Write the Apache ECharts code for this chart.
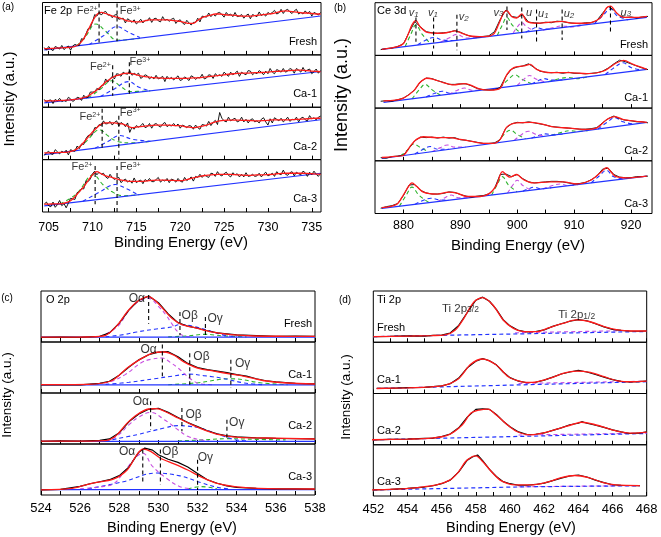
<!DOCTYPE html>
<html><head><meta charset="utf-8">
<script src="https://cdn.jsdelivr.net/npm/echarts@6/dist/echarts.min.js"></script>
<style>html,body{margin:0;padding:0;background:#fff}#c{width:661px;height:537px}</style>
</head><body><div id="c"></div><script>
// ================= DATA =================
const samples = ['Fresh', 'Ca-1', 'Ca-2', 'Ca-3'];

// ---- (a) Fe 2p ----
const feTicks = [705,707.5,710,712.5,715,717.5,720,722.5,725,727.5,730,732.5,735];
const feLabels = [705,710,715,720,725,730,735];
const feEnergy = [704.5,705,705.5,706,706.5,707,707.5,708,708.5,709,709.5,710,710.5,711,711.5,712,712.5,713,713.5,714,714.5,715,715.5,716,716.5,717,717.5,718,718.5,719,719.5,720,720.5,721,721.5,722,722.5,723,723.5,724,724.5,725,725.5,726,726.5,727,727.5,728,728.5,729,729.5,730,730.5,731,731.5,732,732.5,733,733.5,734,734.5,735,735.5,736];
const feRawEnergy = [704.5,704.75,705,705.25,705.5,705.75,706,706.25,706.5,706.75,707,707.25,707.5,707.75,708,708.25,708.5,708.75,709,709.25,709.5,709.75,710,710.25,710.5,710.75,711,711.25,711.5,711.75,712,712.25,712.5,712.75,713,713.25,713.5,713.75,714,714.25,714.5,714.75,715,715.25,715.5,715.75,716,716.25,716.5,716.75,717,717.25,717.5,717.75,718,718.25,718.5,718.75,719,719.25,719.5,719.75,720,720.25,720.5,720.75,721,721.25,721.5,721.75,722,722.25,722.5,722.75,723,723.25,723.5,723.75,724,724.25,724.5,724.75,725,725.25,725.5,725.75,726,726.25,726.5,726.75,727,727.25,727.5,727.75,728,728.25,728.5,728.75,729,729.25,729.5,729.75,730,730.25,730.5,730.75,731,731.25,731.5,731.75,732,732.25,732.5,732.75,733,733.25,733.5,733.75,734,734.25,734.5,734.75,735,735.25,735.5,735.75,736];
const feFreshFit = [12,12,12.5,13,13.5,14,14.5,16,21,31,47,64,77,81,79,76,73,71,68,65,64,63,63,65,67,67,67,67,67,66,65,64,62,60,60,66,71,74,76,78,78,77,76,76,75,74,74,74,75,76,77,78,79,81,83,84,83,82,81,80,80,79,78,78];
const feFreshRaw = [14,9,16,11,8,16,14,11,18,10,14,17,9,17,20,18,18,31,29,40,50,52,63,77,74,81,76,81,83,76,76,71,76,77,68,69,70,61,69,66,62,67,59,63,68,61,66,65,71,62,69,70,65,63,73,66,68,64,68,70,60,65,67,61,58,66,61,57,62,62,70,63,74,73,72,80,73,78,74,80,81,77,72,81,76,78,73,81,73,74,77,70,75,78,69,77,75,73,82,75,78,74,81,78,81,85,78,80,87,79,85,87,82,79,84,87,78,81,78,84,79,83,74,81,79,76,81];
const feCa1Fit = [12,12,12,12.5,13,13.5,14,15,16.5,18.5,21.5,27,33,40,48,54,59,61.5,64,65,64,62,60,58.5,57.5,56.5,56,55.5,55,55,55,55,55,55.5,56,56,57,58,59,60,61,62,63,64,64.5,65,65,65.5,66,66,66.5,67,68,68.5,69,69.5,70,70.5,71,70.5,70,69,68.5,68];
const feCa1Raw = [15,10,13,14,7,15,12,17,11,13,11,19,16,11,14,19,18,13,23,18,19,29,29,29,36,33,41,42,54,48,54,59,54,64,63,59,67,64,63,70,61,65,62,65,55,58,62,60,54,58,54,61,54,56,59,49,59,54,57,52,56,60,51,53,58,55,51,60,58,53,57,56,63,54,56,62,61,55,64,60,62,59,67,63,59,67,62,65,69,59,67,64,62,70,69,62,66,64,70,67,62,69,64,74,67,64,72,70,67,74,67,69,74,72,65,74,71,67,76,68,71,73,64,68,73,65,70];
const feCa2Fit = [13,13,13.5,13.5,14,14,15.5,18,24,33,43,53,61,68,70,70,70,69,68,64,61,62,63,64,65,65.5,66,66,66,65.5,65,65,63,62,61,62,64,66,69,72,74,75,75.5,75.5,75.5,75,75,74.5,74,74,74.5,75,76,76,76,76,76,76.5,77,77.5,78,78.5,79,79];
const feCa2Raw = [8,13,16,11,10,19,15,11,16,13,18,9,19,17,16,26,21,30,29,40,46,47,48,61,61,67,65,74,68,69,73,66,71,74,64,71,68,63,70,52,62,58,65,62,65,69,61,63,69,60,67,69,65,62,68,71,63,66,64,69,64,68,60,66,64,61,65,64,58,66,61,58,67,66,64,73,65,71,75,67,90,79,74,72,81,74,77,79,72,74,81,72,77,70,76,78,72,74,70,77,80,72,66,78,70,80,77,74,79,72,76,81,73,77,76,81,72,79,81,76,74,84,78,80,76,81,83];
const feCa3Fit = [15,15,15.5,15.5,16,18,21.5,29,39,48,60,71,77,73,69,67,64.5,62,60.5,59,58.5,58.5,58.5,59,60,60.5,61,61,60.5,60.5,60,60,61,63,65,67,69,70,71,71.5,72,72,72,71.5,71,70.5,70,70,70.5,71,71,71.5,72,73,73.5,74,74,74,74,74,73.5,73,72.5,72];
const feCa3Raw = [15,19,12,10,19,9,14,22,12,16,8,17,26,25,24,37,38,45,44,59,58,63,73,78,71,76,72,74,67,64,72,66,62,65,66,56,60,63,57,60,55,65,56,59,61,54,62,59,64,58,58,62,66,57,61,59,64,56,63,61,57,64,59,57,66,60,63,67,59,68,66,72,66,71,68,66,74,73,68,77,71,69,73,76,70,67,75,71,73,67,72,67,75,68,69,72,68,69,74,67,72,76,69,71,74,68,77,73,71,80,72,70,75,77,69,76,73,71,78,75,68,76,71,78,72,68,74];
const feFreshBase = [[704.5,9.4],[736,74.2]];
const feCa1Base = [[704.5,8.4],[736,68.3]];
const feCa2Base = [[704.5,9.4],[736,76.1]];
const feCa3Base = [[704.5,11.7],[736,74]];
const feFreshFe2 = [[708.2,17],[709.2,35],[710.4,59],[711.5,45],[712.8,28],[714,29],[715.4,31.5]];
const feFreshFe3 = [[709.6,19.6],[711.2,36],[712.8,54],[714,44],[715.4,33]];
const feCa1Fe2 = [[709.5,18],[710.8,33],[712.2,50.6],[713.2,40],[714.3,30],[716.6,31.4]];
const feCa1Fe3 = [[710.9,20.6],[712.5,35],[714.1,49],[715.3,38],[716.6,31]];
const feCa2Fe2 = [[707.8,16.4],[709.3,35],[710.8,57],[711.8,45],[712.8,35],[714.5,32],[716.6,35]];
const feCa2Fe3 = [[710.3,21.9],[711.8,35],[713.1,46],[714.5,39],[716.6,35]];
const feCa3Fe2 = [[706.3,15.3],[708.2,35],[710.1,71],[711.2,52],[712.2,39],[713.5,31],[715.4,33.3]];
const feCa3Fe3 = [[708.9,20.4],[710.8,38],[712.6,52.5],[713.8,45],[715.0,35]];
const feFreshMarks = [[710.75,98,20],[712.8,98,26]];
const feCa1Marks = [[712.3,80,22],[714.2,86,26]];
const feCa2Marks = [[711.1,97,19],[713.0,84,2]];
const feCa3Marks = [[710.3,88,15],[712.8,88,0]];
const feFreshTags = [[709.4,84,'Fe','2+'],[714.3,84,'Fe','3+']];
const feCa1Tags = [[710.9,77.5,'Fe','2+'],[715.4,87,'Fe','3+']];
const feCa2Tags = [[709.7,81,'Fe','2+'],[714.3,90,'Fe','3+']];
const feCa3Tags = [[708.8,85.5,'Fe','2+'],[714.3,85.5,'Fe','3+']];

// ---- (b) Ce 3d ----
const ceTicks = [880,885,890,895,900,905,910,915,920];
const ceLabels = [880,890,900,910,920];
const ceEnergy = [876,877,878,879,880,881,882,883,884,885,886,887,888,889,890,891,892,893,894,895,896,897,898,899,900,901,902,903,904,905,906,907,908,909,910,911,912,913,914,915,916,917,918,919,920,921,922,923];
const ceFreshRaw = [11,13,14,17,22,44,64,54,45,43,42,43,44,47,44,39,36,35,36,37,45,68,86,74,72,77,63,62,61,63,62,65,64,62,61,60,62,62,66,80,93,86,75,72,73,71,73,74];
const ceCa1Raw = [13,14,13,16,19,26,35,50,57,56,52,49,45,45,46,46,42,37,35,34,35,39,60,74,78,80,84,77,70,68,67,68,66,68,66,66,65,66,67,70,76,84,91,88,84,80,76,73];
const ceCa2Raw = [6,5,8,9,11,24,38,45,44,45,43,45,43,44,40,39,37,35,33,33,34,40,62,70,73,72,74,72,70,68,65,64,63,62,61,60,60,61,63,72,80,85,80,77,76,74,74,72];
const ceCa3Raw = [10,13,15,19,34,54,55,44,39,37,37,38,41,40,36,33,31,33,34,37,47,74,75,70,74,66,60,58,59,60,61,61,60,58,56,57,59,64,71,84,86,74,69,68,68,70,70,71];
const ceFreshFit = [[876.2,11.6],[878.8,16],[880.0,22.6],[880.9,42],[881.5,58],[882.2,65.8],[882.9,54.8],[884.1,44],[885.9,42],[887.6,43],[889.1,46.5],[890.3,42],[891.7,36.8],[894.1,35.5],[895.8,40],[896.7,58],[897.6,80.6],[898.2,85],[899.0,74],[899.9,71],[900.8,78.7],[901.7,64.5],[903.4,61],[905.8,63],[907.8,64.5],[909.9,61],[912.2,61],[914.6,71],[915.7,90],[916.4,93.5],[917.5,80.6],[918.7,72],[921.0,72],[922.8,74]];
const ceCa1Fit = [[876.5,13.8],[878.5,15],[880.0,19],[881.8,32.7],[882.9,48.4],[884.1,56.6],[885.3,54.7],[887.0,48.4],[888.8,44],[890.6,46.5],[891.7,44],[893.5,35.8],[895.2,34],[897.0,37.7],[898.2,64],[899.4,76.7],[901.1,80],[902.3,83],[903.4,73.6],[905.8,67.3],[909.3,67.3],[912.2,65.4],[915.2,70.4],[917.5,86],[918.7,90.6],[920.4,83],[922.8,73.6]];
const ceCa2Fit = [[876.2,6.3],[878,8],[880.0,10.6],[881.2,28],[882.3,40.6],[883.5,45.6],[885.9,43.8],[888.2,43.8],[890.0,40.6],[891.7,37.5],[894.1,33],[895.8,33],[897.0,40.6],[898.2,64.4],[899.9,72],[902.3,73],[904.0,70.6],[906.4,64.4],[909.3,62],[911.6,59.4],[914.0,62.5],[915.7,78],[917.2,84],[918.7,78],[921.0,75],[922.8,73]];
const ceCa3Fit = [[876.2,11],[878.8,17.4],[880.0,35.5],[880.9,51.6],[881.5,58],[882.3,51.6],[883.5,40.6],[885.9,36.8],[887.9,40.6],[889.4,38.7],[891.1,32.3],[893.5,32.3],[895.2,38.7],[896.4,54.8],[897.4,79.4],[898.7,69],[899.9,74],[901.1,64.5],[902.8,58],[905.8,60],[908.1,60],[910.4,56],[912.8,62.6],[914.6,77.4],[915.7,87],[917.2,71],[919.3,67.7],[922.8,71]];
const ceFreshBase = [[876.2,11.6],[922.8,72]];
const ceCa1Base = [[876.5,10.7],[922.8,73.6]];
const ceCa2Base = [[876.2,4.4],[922.8,73]];
const ceCa3Base = [[876.2,9.7],[922.8,71]];
const ceFreshGreen = [[[880.3,16.9],[881.3,40],[882.2,58],[883.3,40],[884.7,22.6]], [[896.5,37.9],[897.4,58],[898.2,72],[899.1,58],[900.5,43.1]]];
const ceFreshBlue = [[[882.5,20],[884,29],[885.3,34],[887,29],[889,28.2]], [[901.5,44],[902.5,49],[903.4,53],[904.5,50],[906,50.2]], [[913.5,60],[915,75],[916.4,88],[917.6,75],[919.5,67.7]]];
const ceFreshMagenta = [[[886.5,25],[888,33],[889.4,40],[891,33],[893,33.4]], [[899.3,43],[900.1,55],[900.8,62],[901.6,55],[903,46.3]], [[904.5,48],[906.5,53],[907.9,56],[909.5,54],[911.5,57.3]]];
const ceCa1Green = [[[881.5,17.5],[882.8,35],[883.8,45],[885,35],[886.5,24.3]], [[897,38.6],[898.5,55],[899.6,63],[900.8,55],[902.5,46.1]], [[905.5,50],[907.5,56],[909,58],[910.5,56],[912.5,59.7]]];
const ceCa1Blue = [[[884,21],[885.5,28],[886.8,32],[888.3,28],[890,29]], [[902.5,46],[903.7,52],[904.7,56],[906,53],[908,53.5]], [[915.5,63.7],[917.2,78],[918.6,86],[920,77],[921.8,72.3]]];
const ceCa1Magenta = [[[888,26.5],[889.5,34],[890.7,38],[892,34],[893.5,33.8]], [[900,43],[901.2,55],[902.2,62],[903.3,55],[905,49.5]]];
const ceCa2Green = [[[879.5,9.3],[880.7,20],[881.8,32],[883,25],[884.5,16.6]], [[896.5,34.3],[897.7,50],[898.8,58],[900,50],[901.5,41.6]], [[906,48.3],[907.8,54],[909.2,57],[910.6,56],[912.5,57.8]]];
const ceCa2Blue = [[[882,13],[883.5,22],[884.7,27],[886,22],[888,21.8]], [[902.5,43],[903.8,48],[905,51],[906.3,49],[908,51]], [[914.2,60.3],[915.8,73],[917.2,82],[918.6,74],[920.5,69.6]]];
const ceCa2Magenta = [[[885,17.4],[886.5,25],[887.7,30],[889,26],[891,26.2]], [[899.5,38.7],[900.8,50],[902,56],[903.3,50],[905,46.8]]];
const ceCa3Green = [[[879.3,13.8],[880.5,35],[881.5,50],[882.7,35],[884.5,20.6]], [[895.5,35.1],[896.5,55],[897.4,70],[898.4,55],[900,41]]];
const ceCa3Blue = [[[882,17.3],[883.5,25],[884.8,29],[886.3,26],[888,25.2]], [[901,42.3],[902,47],[903,50],[904.2,47],[906,48.9]], [[913,58.1],[914.5,72],[915.7,82],[916.9,70],[918.7,65.6]]];
const ceCa3Magenta = [[[886,22.6],[887.3,30],[888.4,35],[889.6,30],[891.5,29.8]], [[898.3,38.8],[899.3,55],[900,63],[901,53],[902.5,44.3]], [[904.5,46.9],[906.2,53],[907.5,56],[909,53],[911,55.5]]];
const ceFreshMarks = [[882.2,72,26],[885.3,72,13],[889.4,77,10],[898.2,93,48],[900.8,91,32],[903.4,87,26],[907.9,87,29],[916.4,93,42]];
const ceFreshTags = [[881.8,80,'v','1'],[885.2,80,'v','1'],[890.6,73,'v','2'],[896.7,81,'v','3'],[902.1,81,'u',''],[904.6,78,'u','1'],[909.1,78,'u','2'],[919.1,81,'u','3']];

// ---- (c) O 2p ----
const oTicks = [524,525,526,527,528,529,530,531,532,533,534,535,536,537,538];
const oLabels = [524,526,528,530,532,534,536,538];
const oFreshFit = [[524.0,9.5],[525.5,9.5],[526.4,9.8],[527.3,13],[527.9,33],[528.4,59],[528.9,79],[529.5,89],[529.9,79],[530.3,62.5],[530.7,46],[531.2,34],[531.9,27.6],[532.7,19.7],[533.7,14.5],[534.9,11.8],[536.6,11.2],[538,11]];
const oFreshRaw = [[524,9],[525,9.5],[526,9],[527,11],[527.5,18],[528,37],[528.5,63],[529,82],[529.5,90],[530,77],[530.5,55],[531,38],[531.5,31],[532,27],[532.5,22],[533,18],[533.5,16],[534,14],[535,12.5],[536,11],[537,11.5],[538,11]];
const oCa1Fit = [[524,16.5],[526.4,17],[527.6,24],[528.4,49],[529.1,67],[529.7,78.4],[530.3,80.4],[530.8,74],[531.3,61],[532.0,49],[532.9,42.5],[533.7,37],[534.4,32.7],[535.4,24],[536.6,19.6],[538,17.6]];
const oCa1Raw = [[524,16],[525,16.5],[526,16],[527,19],[527.5,23],[528,35],[528.5,51],[529,65],[529.5,75],[530,80],[530.5,81],[531,71],[531.5,58],[532,50],[532.5,46],[533,43],[533.5,40],[534,36],[534.5,33],[535,28],[535.5,24],[536,22],[537,19],[538,18]];
const oCa2Fit = [[524,5.5],[525.5,5.5],[527.3,6.5],[527.8,15],[528.4,41],[528.9,57.5],[529.5,68.6],[529.9,69.3],[530.5,60.8],[531.0,51],[531.7,38],[532.4,26.8],[533.1,18.3],[534.1,13],[535.5,11.8],[538,9.8]];
const oCa2Raw = [[524,5],[525,6],[526,5.5],[527,7],[527.5,10],[528,22],[528.5,44],[529,59],[529.5,68],[530,70],[530.5,62],[531,52],[531.5,42],[532,34],[532.5,26],[533,20],[533.5,16],[534,14],[535,12],[536,11],[537,10.5],[538,10]];
const oCa3Fit = [[524,10],[525.6,13],[526.6,23],[527.7,31],[528.4,49],[528.9,79],[529.2,90],[529.6,85.5],[530.1,72],[530.8,61],[531.5,49],[532.2,35],[532.9,24],[533.9,16.4],[535.1,13],[538,11.8]];
const oCa3Raw = [[524,10],[525,11],[526,17],[526.5,22],[527,26],[527.5,30],[528,38],[528.5,55],[529,84],[529.3,92],[529.7,88],[530,79],[530.5,70],[531,64],[531.5,55],[532,42],[532.5,30],[533,23],[533.5,18],[534,15],[535,13],[536,12],[537,12],[538,11.5]];
const oFreshBase = [[524,9.5],[538,9.5]];
const oCa1Base = [[524,15.8],[538,15.8]];
const oCa2Base = [[524,5],[538,5]];
const oCa3Base = [[524,10.5],[538,10.5]];
const oFreshAlpha = [[527,10],[527.9,30],[528.5,62],[529.0,80],[529.5,85.5],[530.0,70],[530.4,52],[530.7,35],[531.0,19.7],[531.4,11],[531.8,10]];
const oFreshBeta = [[527.3,10],[528.3,15],[528.9,19.7],[529.8,25],[530.7,29.6],[531.1,34],[531.9,29.6],[532.7,21],[533.4,13],[534,10.5]];
const oFreshGamma = [[530.5,10],[531.5,12],[532.4,15],[533.3,12],[534.5,10]];
const oCa1Alpha = [[526.5,17],[527.5,22],[528.3,36],[529.1,58.8],[529.6,66],[530.2,68.6],[530.6,60],[531.0,49],[531.7,26],[532.2,17.6],[532.8,16.3]];
const oCa1Beta = [[527.3,17],[528.5,21],[529.8,28],[530.7,33],[531.6,37],[532.3,34],[533.2,29.4],[534.4,19.6],[535.4,16.3]];
const oCa1Gamma = [[530.5,16.3],[532,20],[533.7,28],[535.3,19.6],[536.6,16.3]];
const oCa2Alpha = [[527.3,6],[527.9,16],[528.5,38],[529.0,53],[529.6,62],[530.3,47.7],[531.0,28],[531.5,15],[532.1,8.5],[532.6,6]];
const oCa2Beta = [[527.3,6],[528.9,18.3],[530.3,31.4],[531.0,36],[531.5,35],[532.1,31.4],[533.1,18.3],[533.9,8.5],[534.5,6]];
const oCa2Gamma = [[531,6],[532.5,8.5],[533.5,10.5],[535,9],[536.5,8]];
const oCa3Alpha = [[526,12],[527,16],[527.7,22],[528.2,43],[528.8,72],[529.2,82],[529.7,56],[530.4,33],[531.1,16.4],[531.7,12.5]];
const oCa3Beta = [[526.4,12],[528.2,26],[529.9,43],[531.1,37.5],[532.2,24],[533,15],[533.6,12]];
const oCa3Gamma = [[531.5,12],[532.2,16.4],[533,12]];
const oFreshMarks = [[529.5,92,36],[531.1,59,13],[532.4,49,6.6]];
const oCa1Marks = [[530.2,95,33],[531.6,78,16],[533.7,65,10]];
const oCa2Marks = [[529.6,83.6,28],[531.2,70.6,24.8],[533.5,47.7,9.8]];
const oCa3Marks = [[529.2,89,26],[530.1,89,20],[532.0,69,10]];
const oFreshTags = [[528.9,85.7,'Oα'],[531.6,51.6,'Oβ'],[532.9,46.5,'Oγ']];
const oCa1Tags = [[529.5,85,'Oα'],[532.2,71.8,'Oβ'],[534.3,56.9,'Oγ']];
const oCa2Tags = [[529.1,83.5,'Oα'],[531.8,57.5,'Oβ'],[534.0,42.4,'Oγ']];
const oCa3Tags = [[528.4,85.4,'Oα'],[530.6,85.4,'Oβ'],[532.4,72.4,'Oγ']];

// ---- (d) Ti 2p ----
const tiTicks = [452,453,454,455,456,457,458,459,460,461,462,463,464,465,466,467,468];
const tiLabels = [452,454,456,458,460,462,464,466,468];
const tiFreshFit = [[452,11],[454,12],[455.4,13],[456.2,14.3],[456.8,24],[457.3,46.8],[457.9,79],[458.4,87],[459.0,72.7],[459.6,43.5],[460.2,27],[460.8,20.8],[461.6,20.8],[462.3,28.6],[463.1,37],[463.9,43.5],[464.7,40],[465.5,30.5],[466.3,24],[467.1,22],[468,22]];
const tiFreshRaw = [[452,11],[453,11.5],[454,12.5],[455,12],[455.5,13.5],[456,14],[456.5,18],[457,33],[457.5,58],[458,82],[458.4,88],[458.8,80],[459.2,64],[459.6,44],[460,32],[460.5,23],[461,20],[461.5,21],[462,24],[462.5,31],[463,36],[463.5,41],[464,44],[464.5,42],[465,36],[465.5,30],[466,25],[466.5,23],[467,22],[467.5,21.5],[468,22]];
const tiCa1Fit = [[452.2,9.8],[454,11],[455.4,13],[456.2,16.3],[457.0,29.4],[457.7,57],[458.4,67.3],[459.2,55.5],[459.9,32.7],[460.7,22.9],[461.3,21.6],[462.3,29.4],[463.1,39.2],[463.9,43.8],[464.7,41],[465.5,32.7],[466.3,24.8],[467.1,22.9],[468,24]];
const tiCa1Raw = [[452.2,10],[453,10],[454,11.5],[455,12],[455.5,13.5],[456,15],[456.5,19],[457,30],[457.5,50],[458,63],[458.4,68],[458.8,64],[459.2,56],[459.6,42],[460,31],[460.5,24],[461,21],[461.5,22],[462,26],[462.5,32],[463,38],[463.5,42],[464,45],[464.5,42],[465,37],[465.5,32],[466,27],[466.5,23.5],[467,22.5],[467.5,23],[468,24]];
const tiCa2Fit = [[451.9,9.7],[454,11],[455.4,12.9],[456.4,19.4],[457.2,38.7],[457.7,61.3],[458.2,67.7],[458.7,69.7],[459.2,58],[459.8,40],[460.4,25.8],[461.2,19.4],[461.9,22.6],[462.9,32],[463.7,40],[464.2,43.9],[464.9,40],[465.7,32],[466.4,25.8],[467.2,22.6],[468,24.5]];
const tiCa2Raw = [[452,9.5],[453,10.5],[454,11],[455,12.5],[455.5,13],[456,16],[456.5,21],[457,33],[457.5,54],[458,69],[458.4,70],[458.8,69],[459.2,59],[459.6,46],[460,35],[460.5,25],[461,20],[461.5,20.5],[462,23],[462.5,28],[463,33],[463.5,39],[464,42],[464.2,45],[464.5,42],[465,38],[465.5,34],[466,29],[466.5,25],[467,22],[467.5,22.5],[468,25]];
const tiCa3Fit = [[451.9,11.8],[454.1,15],[455.7,21.6],[456.5,31.4],[457.0,47.7],[457.4,67.3],[457.8,77],[458.0,78.4],[458.4,67.3],[459.0,44.4],[459.5,29.4],[460.3,21.6],[461.3,21.6],[462.3,28],[463.0,36],[463.8,40],[464.6,36],[465.4,26.8],[466.2,21.6],[467.6,20.3]];
const tiCa3Raw = [[452,12],[453,13],[454,15],[455,17.5],[455.5,20],[456,24],[456.5,31],[457,47],[457.5,70],[457.8,76],[458.1,80],[458.4,69],[458.8,52],[459.2,38],[459.6,28],[460,24],[460.5,21],[461,21],[461.5,22.5],[462,25],[462.5,30],[463,35],[463.5,39],[464,41],[464.5,37],[465,31],[465.5,26],[466,22],[466.5,21],[467,20.5],[467.6,20]];
const tiFreshBase = [[452,11],[468,21]];
const tiCa1Base = [[452.2,9.8],[468,23]];
const tiCa2Base = [[452,9.7],[468,22]];
const tiCa3Base = [[452,11.8],[461,18],[467.6,20]];
const tiFreshP12Base = [[460.3,18.5],[466.5,22.5]];
const tiCa1P12Base = [[460.5,19.6],[468,24]];
const tiCa2P12Base = [[460.5,19],[468,22.6]];
const tiCa3P12Base = [[460.5,18],[467.6,20.3]];
const tiFreshTags = [[457.1,66,'Ti 2p','3/2'],[463.9,53,'Ti 2p','1/2']];

// ================= BUILD =================
const FONT = '"Liberation Sans", Arial, "DejaVu Sans", sans-serif';
const RED = '#ff1a1a', BLUE = '#2233ff', GREEN = '#2db42d', MAG = '#c84ee0';
const pairs = (xs, ys) => xs.map((x, i) => [x, ys[i]]);

const panels = [
  { left: 42.5, right: 321, top: 2.5, bottom: 212, xmin: 704.3, xmax: 736.05,
    ticks: feTicks, labels: feLabels, labelSize: 12.5, labelMargin: 9,
    letter: '(a)', letterXY: [8, 7], title: 'Fe 2p', titleXY: [44, 11],
    yTitleXY: [10, 99], yTitleSize: 15, xTitleXY: [181, 243], xTitleSize: 15,
    sampleAlign: 'right', sampleX: 317, sampleDy: 13, sampleSize: 11, baseDash: false, rawWidth: 0.9,
    rich: { a: { fontSize: 11, fontFamily: FONT, color: '#000' }, s: { fontSize: 7, fontFamily: FONT, color: '#000', verticalAlign: 'top' } },
    subs: [
      { raw: pairs(feRawEnergy, feFreshRaw), fit: pairs(feEnergy, feFreshFit), base: feFreshBase, green: [feFreshFe2], blue: [feFreshFe3], mag: [], marks: feFreshMarks, tags: feFreshTags },
      { raw: pairs(feRawEnergy, feCa1Raw), fit: pairs(feEnergy, feCa1Fit), base: feCa1Base, green: [feCa1Fe2], blue: [feCa1Fe3], mag: [], marks: feCa1Marks, tags: feCa1Tags },
      { raw: pairs(feRawEnergy, feCa2Raw), fit: pairs(feEnergy, feCa2Fit), base: feCa2Base, green: [feCa2Fe2], blue: [feCa2Fe3], mag: [], marks: feCa2Marks, tags: feCa2Tags },
      { raw: pairs(feRawEnergy, feCa3Raw), fit: pairs(feEnergy, feCa3Fit), base: feCa3Base, green: [feCa3Fe2], blue: [feCa3Fe3], mag: [], marks: feCa3Marks, tags: feCa3Tags }
    ] },
  { left: 375, right: 652, top: 2.7, bottom: 213.5, xmin: 875, xmax: 923.7,
    ticks: ceTicks, labels: ceLabels, labelSize: 12.5, labelMargin: 6,
    letter: '(b)', letterXY: [340, 8], title: 'Ce 3d', titleXY: [377, 10.5],
    yTitleXY: [342, 95], yTitleSize: 18, xTitleXY: [518, 246], xTitleSize: 15,
    sampleAlign: 'right', sampleX: 648, sampleDy: 10, sampleSize: 11, baseDash: false, rawWidth: 0.9,
    rich: { a: { fontSize: 11, fontFamily: FONT, fontStyle: 'italic', color: '#000' }, s: { fontSize: 8, fontFamily: FONT, fontStyle: 'italic', color: '#000', verticalAlign: 'bottom' } },
    subs: [
      { raw: pairs(ceEnergy, ceFreshRaw), fit: ceFreshFit, base: ceFreshBase, green: ceFreshGreen, blue: ceFreshBlue, mag: ceFreshMagenta, marks: ceFreshMarks, tags: ceFreshTags },
      { raw: pairs(ceEnergy, ceCa1Raw), fit: ceCa1Fit, base: ceCa1Base, green: ceCa1Green, blue: ceCa1Blue, mag: ceCa1Magenta, marks: [], tags: [] },
      { raw: pairs(ceEnergy, ceCa2Raw), fit: ceCa2Fit, base: ceCa2Base, green: ceCa2Green, blue: ceCa2Blue, mag: ceCa2Magenta, marks: [], tags: [] },
      { raw: pairs(ceEnergy, ceCa3Raw), fit: ceCa3Fit, base: ceCa3Base, green: ceCa3Green, blue: ceCa3Blue, mag: ceCa3Magenta, marks: [], tags: [] }
    ] },
  { left: 41, right: 315, top: 291, bottom: 495, xmin: 524, xmax: 538,
    ticks: oTicks, labels: oLabels, labelSize: 13, labelMargin: 7,
    letter: '(c)', letterXY: [7, 298], title: 'O 2p', titleXY: [46, 300],
    yTitleXY: [7, 395], yTitleSize: 13.5, xTitleXY: [172, 528], xTitleSize: 14.5,
    sampleAlign: 'right', sampleX: 312, sampleDy: 18, sampleSize: 11, baseDash: false, rawWidth: 1.2,
    rich: { a: { fontSize: 12, fontFamily: FONT, color: '#000' } },
    subs: [
      { raw: oFreshRaw, fit: oFreshFit, base: oFreshBase, green: [oFreshGamma], blue: [oFreshBeta], mag: [oFreshAlpha], marks: oFreshMarks, tags: oFreshTags },
      { raw: oCa1Raw, fit: oCa1Fit, base: oCa1Base, green: [oCa1Gamma], blue: [oCa1Beta], mag: [oCa1Alpha], marks: oCa1Marks, tags: oCa1Tags },
      { raw: oCa2Raw, fit: oCa2Fit, base: oCa2Base, green: [oCa2Gamma], blue: [oCa2Beta], mag: [oCa2Alpha], marks: oCa2Marks, tags: oCa2Tags },
      { raw: oCa3Raw, fit: oCa3Fit, base: oCa3Base, green: [oCa3Gamma], blue: [oCa3Beta], mag: [oCa3Alpha], marks: oCa3Marks, tags: oCa3Tags }
    ] },
  { left: 373.3, right: 646.7, top: 291, bottom: 496, xmin: 452, xmax: 468,
    ticks: tiTicks, labels: tiLabels, labelSize: 13, labelMargin: 7,
    letter: '(d)', letterXY: [345, 300], title: 'Ti 2p', titleXY: [377, 300],
    yTitleXY: [346, 397], yTitleSize: 13.5, xTitleXY: [511, 528], xTitleSize: 14.5,
    sampleAlign: 'left', sampleX: 377, sampleDy: 14, sampleSize: 11, baseDash: true, rawWidth: 1.2,
    rich: { a: { fontSize: 11.5, fontFamily: FONT, color: '#000' }, s: { fontSize: 8.5, fontFamily: FONT, color: '#000', verticalAlign: 'bottom' } },
    subs: [
      { raw: tiFreshRaw, fit: tiFreshFit, base: tiFreshBase, green: [], blue: [], mag: [tiFreshP12Base], marks: [], tags: tiFreshTags },
      { raw: tiCa1Raw, fit: tiCa1Fit, base: tiCa1Base, green: [], blue: [], mag: [tiCa1P12Base], marks: [], tags: [] },
      { raw: tiCa2Raw, fit: tiCa2Fit, base: tiCa2Base, green: [], blue: [], mag: [tiCa2P12Base], marks: [], tags: [] },
      { raw: tiCa3Raw, fit: tiCa3Fit, base: tiCa3Base, green: [], blue: [], mag: [tiCa3P12Base], marks: [], tags: [] }
    ] }
];

const grids = [], xAxes = [], yAxes = [], series = [], graphics = [];
function line(gi, data, color, width, dashed, z, smooth) {
  return { type: 'line', xAxisIndex: gi, yAxisIndex: gi, data, symbol: 'none', showSymbol: false,
    smooth: smooth, silent: true, animation: false, z,
    lineStyle: { color, width, type: dashed ? [4, 3] : 'solid' } };
}
function txt(x, y, text, size, align, rot) {
  graphics.push({ type: 'text', x, y, rotation: rot || 0, silent: true,
    style: { text, fill: '#000', fontSize: size, fontFamily: FONT, align: align || 'left', verticalAlign: 'middle' } });
}

let gi = 0;
panels.forEach(p => {
  const h = (p.bottom - p.top) / 4;
  txt(p.letterXY[0], p.letterXY[1], p.letter, 10, 'center');
  txt(p.titleXY[0], p.titleXY[1], p.title, 11, 'left');
  txt(p.yTitleXY[0], p.yTitleXY[1], 'Intensity (a.u.)', p.yTitleSize, 'center', Math.PI / 2);
  txt(p.xTitleXY[0], p.xTitleXY[1], 'Binding Energy (eV)', p.xTitleSize, 'center');
  p.subs.forEach((s, si) => {
    const top = p.top + si * h;
    const isBottom = si === 3;
    grids.push({ left: p.left, top, width: p.right - p.left, height: h, show: true,
      borderColor: '#000', borderWidth: 1, backgroundColor: 'rgba(0,0,0,0)', containLabel: false, outerBoundsMode: 'none' });
    xAxes.push({ type: 'value', gridIndex: gi, min: p.xmin, max: p.xmax,
      axisLine: { show: false }, splitLine: { show: false }, minorTick: { show: false },
      axisTick: { show: true, inside: true, length: 4, lineStyle: { color: '#000', width: 1 }, customValues: p.ticks },
      axisLabel: { show: isBottom, customValues: p.labels, fontSize: p.labelSize, color: '#000', fontFamily: FONT, margin: p.labelMargin, hideOverlap: false } });
    yAxes.push({ type: 'value', gridIndex: gi, min: 0, max: 100, show: false });
    txt(p.sampleX, top + h - p.sampleDy, samples[si], p.sampleSize, p.sampleAlign);

    s.green.forEach(c => series.push(line(gi, c, GREEN, 1.1, true, 2, 0.4)));
    s.blue.forEach(c => series.push(line(gi, c, BLUE, 1.1, true, 2, 0.4)));
    s.mag.forEach(c => series.push(line(gi, c, MAG, 1.1, true, 2, 0.4)));
    series.push(line(gi, s.base, BLUE, 1.2, p.baseDash, 3, false));
    series.push(line(gi, s.raw, '#000', p.rawWidth, false, 4, false));
    series.push(line(gi, s.fit, RED, 1.3, false, 5, 0.3));
    s.marks.forEach(m => series.push(line(gi, [[m[0], m[1]], [m[0], m[2]]], '#000', 1.1, true, 6, false)));
    if (s.tags.length) {
      series.push({ type: 'scatter', xAxisIndex: gi, yAxisIndex: gi, data: s.tags, symbolSize: 1, silent: true, animation: false, z: 7,
        itemStyle: { color: 'rgba(0,0,0,0)' },
        label: { show: true, position: 'inside', color: '#000', rich: p.rich,
          formatter: d => d.data[3] ? `{a|${d.data[2]}}{s|${d.data[3]}}` : `{a|${d.data[2]}}` } });
    }
    gi++;
  });
});

const chart = echarts.init(document.getElementById('c'), null, { renderer: 'canvas' });
chart.setOption({ animation: false, backgroundColor: '#fff', grid: grids, xAxis: xAxes, yAxis: yAxes, series, graphic: graphics });
</script></body></html>
